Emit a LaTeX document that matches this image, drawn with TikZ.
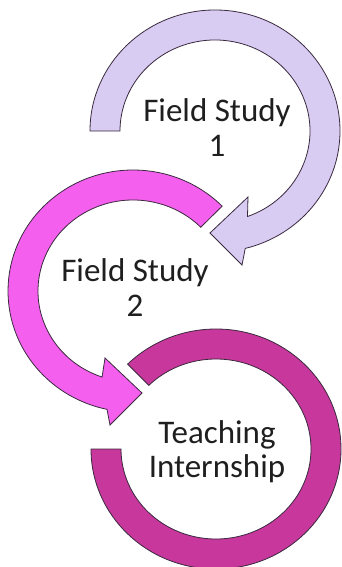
\documentclass[tikz,border=0pt]{standalone}
\usepackage{fontspec}
\setmainfont{Carlito}
\definecolor{lav}{HTML}{D9CCF3}
\definecolor{mag}{HTML}{F55FEE}
\definecolor{plum}{HTML}{C8379B}
\definecolor{edgec}{HTML}{3A2A3E}
\begin{document}
\begin{tikzpicture}[x=1pt,y=-1pt,
  band/.style={draw=edgec,line width=0.8pt,line join=miter},
  lbl/.style={font=\fontsize{33}{35}\selectfont,inner sep=0pt,anchor=base,text=black!88}]
\useasboundingbox (0,0) rectangle (342,567);
\fill[white] (0,0) rectangle (342,567);
% ring 3 (Teaching Internship)
\path[band,fill=plum] (216,449) ++(180:125 and 120)
  arc[start angle=180,end angle=-135,x radius=125,y radius=120]
  -- ([shift={(216,449)}]-135:95 and 90)
  arc[start angle=-135,end angle=180,x radius=95,y radius=90] -- cycle;
% arrow 2 (Field Study 2)
\path[band,fill=mag] (133,291) ++(-44.5:125 and 121)
  arc[start angle=-44.5,end angle=-258,x radius=125,y radius=121]
  -- (110,425) -- (142,393) -- (105,358)
  -- ([shift={(133,291)}]-251:95 and 91)
  arc[start angle=-251,end angle=-44.5,x radius=95,y radius=91] -- cycle;
% arrow 1 (Field Study 1)
\path[band,fill=lav] (215,131) ++(-180:125 and 121)
  arc[start angle=-180,end angle=76,x radius=125,y radius=121]
  -- (242,265) -- (210,233) -- (248,197)
  -- ([shift={(215,131)}]70:95 and 91)
  arc[start angle=70,end angle=-180,x radius=95,y radius=91] -- cycle;
% labels
\node[lbl] (fs1a) at (217,121.7) {Field Study};
\node[lbl] (fs1b) at (217,156.7) {1};
\node[lbl] (fs2a) at (135,281.7) {Field Study};
\node[lbl] (fs2b) at (135,316.7) {2};
\node[lbl] (ti1) at (217,443) {Teaching};
\node[lbl] (ti2) at (217,477) {Internship};
\end{tikzpicture}
\end{document}
